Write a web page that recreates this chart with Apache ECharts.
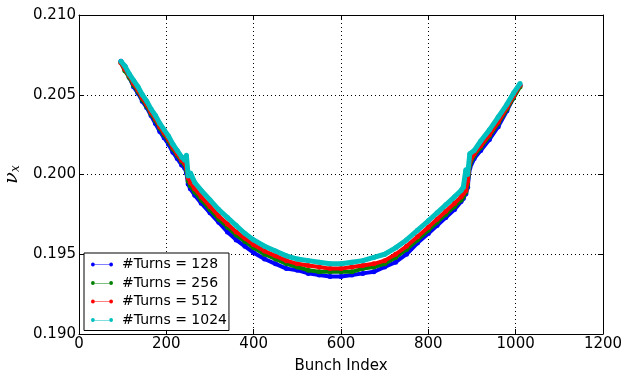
<!DOCTYPE html>
<html>
    <head>
        <meta charset="UTF-8">
        <script src="https://cdn.jsdelivr.net/npm/echarts@6/dist/echarts.min.js"></script>
    </head>
    <body style="margin:0">
        <div id="chart" style="width: 636px; height: 372px;"></div>
        <script>
            const bunch = [96, 105, 115, 125, 135, 145, 155, 165, 175, 185, 195, 205, 215, 225, 235, 242, 246, 250, 255, 265,
                280, 300, 320, 340, 360, 380, 400, 425, 450, 475, 500, 525, 550, 575, 600, 625, 650, 675, 700, 725,
                750, 775, 800, 820, 840, 860, 875, 880, 886, 890, 895, 905, 920, 940, 960, 980, 995, 1010];

            const turns128 = [0.2071, 0.2068, 0.2061, 0.2055, 0.2051, 0.2046, 0.2042, 0.2037, 0.2032, 0.2027, 0.2023, 0.2019, 0.2014, 0.2010, 0.2006, 0.2004, 0.2001, 0.1994, 0.1991, 0.1987,
                0.1982, 0.1976, 0.1970, 0.1964, 0.1959, 0.1955, 0.1951, 0.1947, 0.1944, 0.1941, 0.1940, 0.1938, 0.1937, 0.1936, 0.1936, 0.1937, 0.1938, 0.1939, 0.1942, 0.1945,
                0.1950, 0.1957, 0.1963, 0.1968, 0.1973, 0.1978, 0.1983, 0.1985, 0.1988, 0.1992, 0.2004, 0.2010, 0.2015, 0.2022, 0.2030, 0.2040, 0.2048, 0.2056];
            const turns256 = [0.2070, 0.2065, 0.2061, 0.2056, 0.2052, 0.2047, 0.2043, 0.2038, 0.2034, 0.2029, 0.2025, 0.2021, 0.2016, 0.2012, 0.2008, 0.2006, 0.2003, 0.1996, 0.1993, 0.1989,
                0.1984, 0.1978, 0.1972, 0.1967, 0.1962, 0.1958, 0.1954, 0.1950, 0.1947, 0.1944, 0.1942, 0.1940, 0.1939, 0.1939, 0.1939, 0.1939, 0.1941, 0.1942, 0.1944, 0.1948,
                0.1953, 0.1959, 0.1965, 0.1970, 0.1975, 0.1980, 0.1984, 0.1986, 0.1989, 0.1994, 0.2006, 0.2012, 0.2017, 0.2024, 0.2032, 0.2041, 0.2048, 0.2055];
            const turns512 = [0.2070, 0.2066, 0.2062, 0.2057, 0.2053, 0.2048, 0.2044, 0.2039, 0.2035, 0.2030, 0.2026, 0.2022, 0.2017, 0.2013, 0.2009, 0.2007, 0.2004, 0.1998, 0.1995, 0.1991,
                0.1986, 0.1980, 0.1974, 0.1969, 0.1964, 0.1960, 0.1956, 0.1952, 0.1949, 0.1946, 0.1944, 0.1943, 0.1942, 0.1941, 0.1941, 0.1942, 0.1943, 0.1944, 0.1946, 0.1950,
                0.1955, 0.1961, 0.1967, 0.1972, 0.1977, 0.1982, 0.1986, 0.1988, 0.1990, 0.1996, 0.2008, 0.2013, 0.2018, 0.2025, 0.2033, 0.2042, 0.2049, 0.2056];
            const turns1024 = [0.2071, 0.2068, 0.2063, 0.2059, 0.2055, 0.2050, 0.2046, 0.2041, 0.2037, 0.2032, 0.2028, 0.2024, 0.2019, 0.2015, 0.2011, 0.2009, 0.2012, 0.1999, 0.2001, 0.1995,
                0.1990, 0.1984, 0.1978, 0.1973, 0.1968, 0.1963, 0.1959, 0.1955, 0.1952, 0.1949, 0.1947, 0.1946, 0.1945, 0.1944, 0.1944, 0.1945, 0.1946, 0.1948, 0.1950, 0.1954,
                0.1959, 0.1965, 0.1971, 0.1976, 0.1981, 0.1986, 0.1990, 0.1992, 0.2003, 0.2000, 0.2013, 0.2015, 0.2021, 0.2028, 0.2036, 0.2044, 0.2051, 0.2057];

            const names = ['#Turns = 128', '#Turns = 256', '#Turns = 512', '#Turns = 1024'];
            const colors = ['#0000ff', '#008000', '#ff0000', '#00bfbf'];
            const values = [turns128, turns256, turns512, turns1024];

            const font = 'DejaVu Sans';
            const legendIcon = 'path://M0.5,3 A2.5,2.5 0 1,1 5.5,3 L24.5,3 A2.5,2.5 0 1,1 29.5,3 A2.5,2.5 0 1,1 24.5,3 L24.5,3.6 L5.5,3.6 L5.5,3 A2.5,2.5 0 1,1 0.5,3 Z';

            const chart = echarts.init(document.getElementById('chart'));

            function boxAxis(extra) {
                return Object.assign({
                    axisLine: {show: true, onZero: false, lineStyle: {color: '#000', width: 1}},
                    axisTick: {show: true, inside: true, length: 5, lineStyle: {color: '#000'}},
                    axisLabel: {show: false},
                    splitLine: {show: false}
                }, extra);
            }

            chart.setOption({
                animation: false,
                backgroundColor: '#fff',
                grid: {left: 79, right: 33, top: 15, bottom: 38, outerBoundsMode: 'none', containLabel: false},
                xAxis: [
                    boxAxis({
                        type: 'value', min: 0, max: 1200, interval: 200, position: 'bottom',
                        name: 'Bunch Index', nameLocation: 'middle', nameGap: 25,
                        nameTextStyle: {fontFamily: font, fontSize: 15, color: '#000'},
                        axisLabel: {show: true, fontFamily: font, fontSize: 15, color: '#000', margin: 3,
                            formatter: v => String(v)},
                        splitLine: {show: true, lineStyle: {color: '#000', type: [1, 3], width: 1}}
                    }),
                    boxAxis({type: 'value', min: 0, max: 1200, interval: 200, position: 'top'})
                ],
                yAxis: [
                    boxAxis({
                        type: 'value', min: 0.190, max: 0.210, interval: 0.005, position: 'left',
                        name: '{n|ν}{s|x}', nameLocation: 'middle', nameGap: 52, nameRotate: 90,
                        nameTextStyle: {rich: {
                            n: {fontFamily: 'DejaVu Serif', fontStyle: 'italic', fontSize: 19, color: '#000'},
                            s: {fontFamily: 'DejaVu Serif', fontStyle: 'italic', fontSize: 12, color: '#000', verticalAlign: 'bottom', padding: [8, 0, 0, 0]}
                        }},
                        axisLabel: {show: true, fontFamily: font, fontSize: 15, color: '#000', margin: 3,
                            formatter: v => v.toFixed(3)},
                        splitLine: {show: true, lineStyle: {color: '#000', type: [1, 3], width: 1}}
                    }),
                    boxAxis({type: 'value', min: 0.190, max: 0.210, interval: 0.005, position: 'right'})
                ],
                legend: {
                    orient: 'vertical',
                    left: 84, top: 253,
                    backgroundColor: '#fff',
                    borderColor: '#000', borderWidth: 1, borderRadius: 0,
                    padding: [4, 2, 3, 7],
                    itemGap: 3.5,
                    itemWidth: 22, itemHeight: 5,
                    icon: legendIcon,
                    textStyle: {fontFamily: font, fontSize: 14, lineHeight: 15, color: '#000', padding: [0, 0, 0, 4]},
                    data: names
                },
                series: values.map((vals, i) => ({
                    name: names[i],
                    type: 'line',
                    xAxisIndex: 0, yAxisIndex: 0,
                    data: bunch.map((b, j) => [b, vals[j]]),
                    color: colors[i],
                    symbol: 'circle',
                    symbolSize: 5,
                    showSymbol: true,
                    lineStyle: {width: i === 3 ? 5 : 4, color: colors[i]},
                    itemStyle: {color: colors[i]},
                    z: 2 + i
                }))
            });
        </script>
    </body>
</html>
